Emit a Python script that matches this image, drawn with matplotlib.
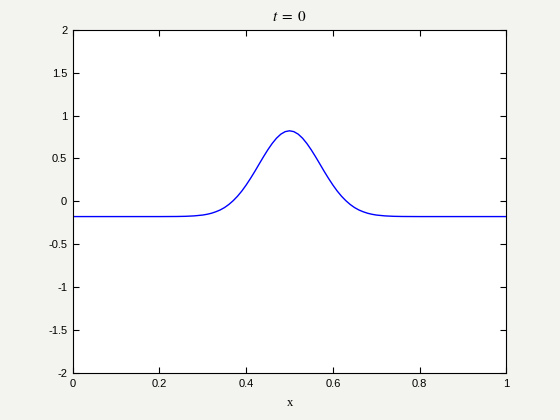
import numpy as np
import matplotlib.pyplot as plt

plt.rcParams['axes.unicode_minus'] = False
plt.rcParams['mathtext.fontset'] = 'stix'

# profile, t = 0
x = [0.0, 0.1, 0.2, 0.24, 0.26, 0.28, 0.30, 0.31, 0.32, 0.33, 0.34, 0.35,
     0.36, 0.37, 0.38, 0.39, 0.40, 0.41, 0.42, 0.43, 0.44, 0.45, 0.46, 0.47,
     0.48, 0.49, 0.50, 0.51, 0.52, 0.53, 0.54, 0.55, 0.56, 0.57, 0.58, 0.59,
     0.60, 0.61, 0.62, 0.63, 0.64, 0.65, 0.66, 0.67, 0.68, 0.69, 0.70, 0.72,
     0.74, 0.76, 0.8, 0.9, 1.0]
u = [-0.177, -0.177, -0.177, -0.176, -0.174, -0.169, -0.159, -0.150, -0.138,
     -0.121, -0.100, -0.072, -0.036, 0.008, 0.060, 0.121, 0.191, 0.268, 0.350,
     0.436, 0.521, 0.602, 0.675, 0.737, 0.784, 0.813, 0.823, 0.813, 0.784,
     0.737, 0.675, 0.602, 0.521, 0.436, 0.350, 0.268, 0.191, 0.121, 0.060,
     0.008, -0.036, -0.072, -0.100, -0.121, -0.138, -0.150, -0.159, -0.169,
     -0.174, -0.176, -0.177, -0.177, -0.177]

xticks = [0, 0.2, 0.4, 0.6, 0.8, 1]
yticks = [-2, -1.5, -1, -0.5, 0, 0.5, 1, 1.5, 2]

fig = plt.figure(figsize=(5.6, 4.2), dpi=100, facecolor='#f3f3ef')
ax = fig.add_axes([0.13, 0.112, 0.774, 0.817])
ax.plot(x, u, color='#0000ff', lw=1.0)

ax.set_xlim(0, 1)
ax.set_ylim(-2, 2)
ax.set_xticks(xticks)
ax.set_xticklabels(['0', '0.2', '0.4', '0.6', '0.8', '1'])
ax.set_yticks(yticks)
ax.set_yticklabels(['-2', '-1.5', '-1', '-0.5', '0', '0.5', '1', '1.5', '2'])
ax.tick_params(direction='in', top=True, right=True, length=4, width=0.8,
               labelsize=8, pad=4)
for lab in ax.get_xticklabels() + ax.get_yticklabels():
    lab.set_family('Liberation Sans')
for s in ax.spines.values():
    s.set_linewidth(0.8)

ax.set_title(r'$t\;=\;0$', fontsize=11, pad=6)
ax.set_xlabel('x', fontsize=9, family='Liberation Serif', labelpad=6)

fig.savefig('out.png', facecolor=fig.get_facecolor())
